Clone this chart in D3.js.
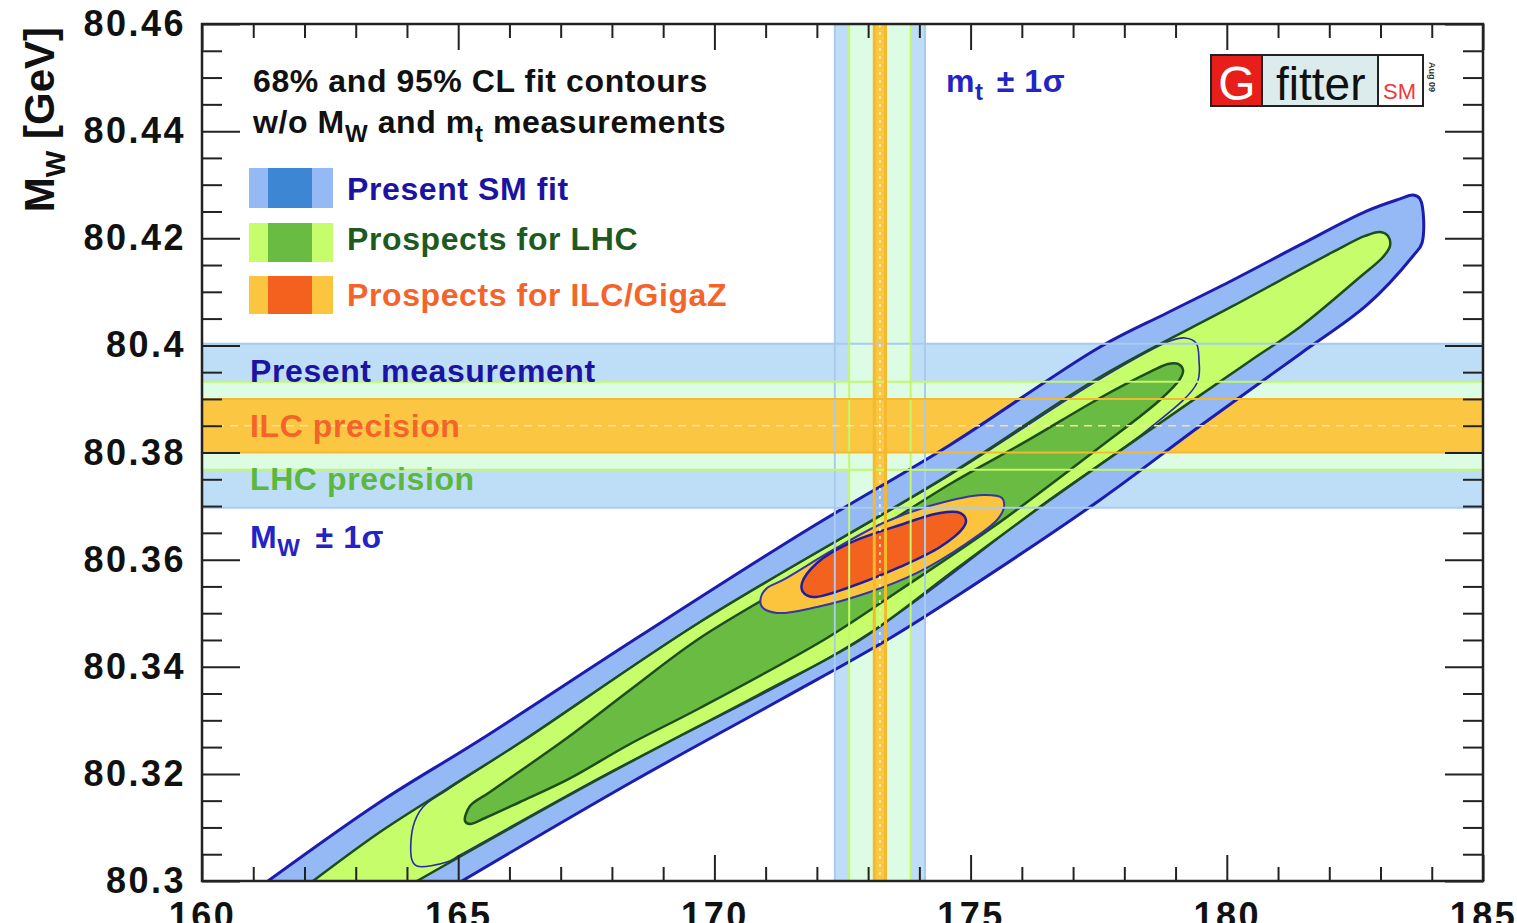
<!DOCTYPE html>
<html>
<head>
<meta charset="utf-8">
<script src="https://cdn.jsdelivr.net/npm/d3@7"></script>
<style>
  html, body { margin: 0; padding: 0; background: #fff; overflow: hidden; }
  svg { display: block; }
  text { font-family: "Liberation Sans", Arial, Helvetica, sans-serif; white-space: pre; }
</style>
</head>
<body>
<svg id="chart" width="1517" height="923"></svg>
<script>
// ---- axis ranges and ticks ----
const xDomain = [160, 185];
const yDomain = [80.3, 80.46];
const xMajorTicks = [160, 165, 170, 175, 180, 185];
const yMajorTicks = [80.3, 80.32, 80.34, 80.36, 80.38, 80.4, 80.42, 80.44, 80.46];
const xMinorStep = 1;
const yMinorStep = 0.005;

// ---- measurement bands: present, LHC, ILC ----
const bandNames = ["present", "lhc", "ilc"];
const mwCenter = 80.385;
const mwHalfWidth = [0.0153, 0.0082, 0.005];
const mtCenter = 173.23;
const mtHalfWidth = [0.88, 0.60, 0.11];

// ---- fit contours, points as [m_t, M_W] ----
// present SM fit, 95% CL (open at the lower plot edge)
const smFit95 = [
  [161.288, 80.3], [163.474, 80.31475], [165.425, 80.32633], [168.548, 80.34574],
  [171.807, 80.36553], [174.598, 80.38141], [177.525, 80.39970], [178.833, 80.40605],
  [180.121, 80.41221], [181.429, 80.41875], [182.736, 80.42510], [183.380, 80.42734],
  [183.634, 80.42808], [183.771, 80.42734], [183.810, 80.41912], [183.634, 80.41669],
  [182.736, 80.40754], [181.429, 80.39840], [179.477, 80.38495], [177.525, 80.37114],
  [174.793, 80.35359], [173.368, 80.34500], [171.280, 80.33379],
  [168.353, 80.31830], [165.074, 80.3]
];
// present SM fit, 68% CL
const smFit68 = [
  [164.781, 80.31699], [166.226, 80.32595], [169.719, 80.34836], [174.598, 80.37580],
  [177.525, 80.39373], [178.891, 80.40082], [179.184, 80.40138], [179.399, 80.40045],
  [179.457, 80.39728], [179.418, 80.39298], [178.501, 80.38458], [176.550, 80.37132],
  [172.842, 80.34518], [167.709, 80.31904], [165.035, 80.30485], [164.781, 80.30355],
  [164.196, 80.30280], [164.098, 80.30392], [164.118, 80.31008], [164.313, 80.31382]
];
// LHC prospects, 95% CL (open at the lower plot edge)
const lhc95 = [
  [162.166, 80.3], [163.474, 80.30915], [164.781, 80.31718], [166.226, 80.32595],
  [169.719, 80.34836], [174.598, 80.37599], [177.525, 80.39410], [180.121, 80.40736],
  [182.073, 80.41744], [182.697, 80.42043], [182.990, 80.42117], [183.146, 80.42043],
  [183.185, 80.41856], [183.048, 80.41651], [182.600, 80.41277], [181.429, 80.40344],
  [180.453, 80.39709], [178.501, 80.38421], [176.550, 80.37114], [174.793, 80.35881],
  [172.842, 80.34500], [170.890, 80.33491], [167.709, 80.31886], [164.196, 80.3]
];
// LHC prospects, 68% CL
const lhc68 = [
  [165.133, 80.31120], [165.230, 80.31400], [165.621, 80.31662], [167.123, 80.32670],
  [168.353, 80.33566], [169.719, 80.34537], [172.100, 80.35900], [174.598, 80.37412],
  [176.062, 80.38197], [177.525, 80.39018], [178.501, 80.39504], [178.852, 80.39653],
  [179.048, 80.39653], [179.145, 80.39541], [179.087, 80.39373], [178.696, 80.38981],
  [177.525, 80.38103], [175.437, 80.36609], [173.622, 80.35433], [172.198, 80.34537],
  [169.719, 80.33230], [168.353, 80.32558], [167.123, 80.31886], [166.206, 80.31475],
  [165.523, 80.31176], [165.230, 80.31064]
];
// ILC/GigaZ prospects, 95% CL
const ilc95 = [
  [170.909, 80.35303], [171.027, 80.35471], [171.339, 80.35620], [172.315, 80.36180],
  [173.290, 80.36684], [174.266, 80.37020], [175.242, 80.37207], [175.613, 80.37151],
  [175.652, 80.36983], [175.515, 80.36740], [174.930, 80.36311], [173.954, 80.35751],
  [172.978, 80.35377], [172.002, 80.35116], [171.222, 80.35004], [170.929, 80.35116]
];
// ILC/GigaZ prospects, 68% CL
const ilc68 = [
  [171.710, 80.35564], [172.002, 80.35937], [172.646, 80.36311], [173.622, 80.36647],
  [174.403, 80.36871], [174.793, 80.36871], [174.910, 80.36740], [174.852, 80.36591],
  [174.403, 80.36236], [173.622, 80.35863], [172.646, 80.35489], [171.924, 80.35303],
  [171.729, 80.35396]
];

// ---- legend entries ----
const legendLabels = ["Present SM fit", "Prospects for LHC", "Prospects for ILC/GigaZ"];

// ---- colours ----
const bandFill = ["#bedef8", "#dcfde3", "#fbc743"];
const bandEdge = ["#a9cbef", "#c2f86a", "#f6b92e"];
const swatchLight = ["#94b9f5", "#c6fd6a", "#fcc540"];
const swatchDark = ["#3d86d4", "#6abb42", "#f4611e"];
const legendText = ["#1c14a0", "#1e5a20", "#f4642a"];

const plot = { left: 202, right: 1483, top: 24, bottom: 881 };

const svg = d3.select("#chart");
const x = d3.scaleLinear().domain(xDomain).range([plot.left, plot.right]);
const y = d3.scaleLinear().domain(yDomain).range([plot.bottom, plot.top]);

svg.append("defs").append("clipPath").attr("id", "plotArea")
  .append("rect")
  .attr("x", plot.left).attr("y", plot.top)
  .attr("width", plot.right - plot.left).attr("height", plot.bottom - plot.top);

const area = svg.append("g").attr("clip-path", "url(#plotArea)");

// bands: wide ones first, each level drawn horizontal then vertical
bandNames.forEach((name, i) => {
  area.append("rect").attr("class", "hband " + name)
    .attr("x", plot.left).attr("width", plot.right - plot.left)
    .attr("y", y(mwCenter + mwHalfWidth[i]))
    .attr("height", y(mwCenter - mwHalfWidth[i]) - y(mwCenter + mwHalfWidth[i]))
    .attr("fill", bandFill[i]);
  area.append("rect").attr("class", "vband " + name)
    .attr("y", plot.top).attr("height", plot.bottom - plot.top)
    .attr("x", x(mtCenter - mtHalfWidth[i]))
    .attr("width", x(mtCenter + mtHalfWidth[i]) - x(mtCenter - mtHalfWidth[i]))
    .attr("fill", bandFill[i]);
});

// contours
const openLine = d3.line().x(d => x(d[0])).y(d => y(d[1])).curve(d3.curveCatmullRom.alpha(0.5));
const closedLine = d3.line().x(d => x(d[0])).y(d => y(d[1])).curve(d3.curveCatmullRomClosed.alpha(0.5));

area.append("path").attr("d", openLine(smFit95))
  .attr("fill", "#94b9f5").attr("stroke", "#1c1cb0").attr("stroke-width", 3);
area.append("path").attr("d", openLine(lhc95))
  .attr("fill", "#c6fd6a").attr("stroke", "none");
area.append("path").attr("d", closedLine(smFit68))
  .attr("fill", "none").attr("stroke", "#2a2aa8").attr("stroke-width", 1.6);
area.append("path").attr("d", openLine(lhc95))
  .attr("fill", "none").attr("stroke", "#1c4d1c").attr("stroke-width", 2.5);
area.append("path").attr("d", closedLine(lhc68))
  .attr("fill", "#6abb42").attr("stroke", "#1c4d1c").attr("stroke-width", 2.5);
area.append("path").attr("d", closedLine(ilc95))
  .attr("fill", "#fcc43c").attr("stroke", "#3535a8").attr("stroke-width", 2);
area.append("path").attr("d", closedLine(ilc68))
  .attr("fill", "#f4621f").attr("stroke", "#1f1f9a").attr("stroke-width", 2.5);

// band edges drawn over the contours
bandNames.forEach((name, i) => {
  [mwCenter + mwHalfWidth[i], mwCenter - mwHalfWidth[i]].forEach(v => {
    area.append("line")
      .attr("x1", plot.left).attr("x2", plot.right)
      .attr("y1", y(v)).attr("y2", y(v))
      .attr("stroke", bandEdge[i]).attr("stroke-width", 2);
  });
  [mtCenter - mtHalfWidth[i], mtCenter + mtHalfWidth[i]].forEach(v => {
    area.append("line")
      .attr("y1", plot.top).attr("y2", plot.bottom)
      .attr("x1", x(v)).attr("x2", x(v))
      .attr("stroke", bandEdge[i]).attr("stroke-width", i === 2 ? 3 : 2);
  });
});
// central values
area.append("line")
  .attr("x1", plot.left).attr("x2", plot.right)
  .attr("y1", y(mwCenter)).attr("y2", y(mwCenter))
  .attr("stroke", "#fde29a").attr("stroke-width", 1.5).attr("stroke-dasharray", "8,6");
area.append("line")
  .attr("y1", plot.top).attr("y2", plot.bottom)
  .attr("x1", x(mtCenter)).attr("x2", x(mtCenter))
  .attr("stroke", "#fff3cc").attr("stroke-width", 1.5).attr("stroke-dasharray", "3,5");

// ---- axes ----
const xMinor = d3.range(xDomain[0], xDomain[1] + 1e-9, xMinorStep).filter(v => !xMajorTicks.includes(v));
const yMinor = d3.range(0, 33).map(k => +(yDomain[0] + k * yMinorStep).toFixed(3))
  .filter(v => !yMajorTicks.some(t => Math.abs(t - v) < 1e-6));

function styleAxis(g) {
  g.select(".domain").remove();
  g.selectAll(".tick line").attr("stroke", "#222").attr("stroke-width", 2);
  g.selectAll(".tick text")
    .attr("fill", "#111").attr("font-size", 36).attr("font-weight", "bold")
    .attr("letter-spacing", "2.5px");
}

svg.append("g").attr("transform", `translate(0,${plot.bottom})`)
  .call(d3.axisBottom(x).tickValues(xMajorTicks).tickSize(-26).tickPadding(21).tickFormat(d => String(d)))
  .call(styleAxis);
svg.append("g").attr("transform", `translate(0,${plot.bottom})`)
  .call(d3.axisBottom(x).tickValues(xMinor).tickSize(-14).tickFormat(""))
  .call(styleAxis);
svg.append("g").attr("transform", `translate(0,${plot.top})`)
  .call(d3.axisTop(x).tickValues(xMajorTicks).tickSize(-26).tickFormat(""))
  .call(styleAxis);
svg.append("g").attr("transform", `translate(0,${plot.top})`)
  .call(d3.axisTop(x).tickValues(xMinor).tickSize(-14).tickFormat(""))
  .call(styleAxis);

svg.append("g").attr("transform", `translate(${plot.left},0)`)
  .call(d3.axisLeft(y).tickValues(yMajorTicks).tickSize(-38).tickPadding(16).tickFormat(d => String(d)))
  .call(styleAxis);
svg.append("g").attr("transform", `translate(${plot.left},0)`)
  .call(d3.axisLeft(y).tickValues(yMinor).tickSize(-20).tickFormat(""))
  .call(styleAxis);
svg.append("g").attr("transform", `translate(${plot.right},0)`)
  .call(d3.axisRight(y).tickValues(yMajorTicks).tickSize(-38).tickFormat(""))
  .call(styleAxis);
svg.append("g").attr("transform", `translate(${plot.right},0)`)
  .call(d3.axisRight(y).tickValues(yMinor).tickSize(-20).tickFormat(""))
  .call(styleAxis);

svg.append("rect")
  .attr("x", plot.left).attr("y", plot.top)
  .attr("width", plot.right - plot.left).attr("height", plot.bottom - plot.top)
  .attr("fill", "none").attr("stroke", "#222").attr("stroke-width", 2.5);

// y-axis title
const yTitle = svg.append("text")
  .attr("transform", "translate(54,27) rotate(-90)")
  .attr("text-anchor", "end").attr("font-size", 42).attr("font-weight", "bold").attr("fill", "#111");
yTitle.append("tspan").text("M");
yTitle.append("tspan").attr("font-size", 28).attr("dy", 11).text("W");
yTitle.append("tspan").attr("dy", -11).text(" [GeV]");

// ---- annotations ----
function label(xp, yp, color, size) {
  return svg.append("text").attr("x", xp).attr("y", yp)
    .attr("fill", color).attr("font-size", size).attr("font-weight", "bold")
    .attr("letter-spacing", "0.6px");
}

label(253, 92, "#111", 32).text("68% and 95% CL fit contours");
const l2 = label(253, 133, "#111", 32);
l2.append("tspan").text("w/o M");
l2.append("tspan").attr("font-size", 24).attr("dy", 9).text("W");
l2.append("tspan").attr("dy", -9).text(" and m");
l2.append("tspan").attr("font-size", 24).attr("dy", 9).text("t");
l2.append("tspan").attr("dy", -9).text(" measurements");

// legend
const swatchTop = [168, 223, 276];
const swatchH = [40, 39, 38];
legendLabels.forEach((lab, i) => {
  const gL = svg.append("g");
  gL.append("rect").attr("x", 249).attr("y", swatchTop[i]).attr("width", 84).attr("height", swatchH[i])
    .attr("fill", swatchLight[i]);
  gL.append("rect").attr("x", 268).attr("y", swatchTop[i]).attr("width", 44).attr("height", swatchH[i])
    .attr("fill", swatchDark[i]);
  label(347, [200, 250, 306][i], legendText[i], 32).text(lab);
});

// band labels
label(250, 382, "#1c14a0", 32).text("Present measurement");
label(250, 437, "#f4642a", 32).text("ILC precision");
label(250, 490, "#5cb83c", 32).text("LHC precision");
const mwLab = label(250, 548, "#2424c4", 32);
mwLab.append("tspan").text("M");
mwLab.append("tspan").attr("font-size", 24).attr("dy", 8).text("W");
mwLab.append("tspan").attr("dy", -8).attr("dx", 15).text("± 1σ");

const mtLab = label(946, 92, "#2424c4", 32);
mtLab.append("tspan").text("m");
mtLab.append("tspan").attr("font-size", 24).attr("dy", 8).text("t");
mtLab.append("tspan").attr("dy", -8).attr("dx", 13).text("± 1σ");

// Gfitter logo
const logo = svg.append("g");
logo.append("rect").attr("x", 1211).attr("y", 55).attr("width", 212).attr("height", 51)
  .attr("fill", "#fff").attr("stroke", "#222").attr("stroke-width", 2);
logo.append("rect").attr("x", 1212).attr("y", 56).attr("width", 50).attr("height", 49).attr("fill", "#e81e1a");
logo.append("rect").attr("x", 1262).attr("y", 56).attr("width", 116).attr("height", 49).attr("fill", "#dcecec");
logo.append("line").attr("x1", 1262).attr("x2", 1262).attr("y1", 55).attr("y2", 106).attr("stroke", "#222").attr("stroke-width", 2);
logo.append("line").attr("x1", 1378).attr("x2", 1378).attr("y1", 55).attr("y2", 106).attr("stroke", "#222").attr("stroke-width", 2);
logo.append("text").attr("x", 1237).attr("y", 100).attr("text-anchor", "middle")
  .attr("font-size", 48).attr("fill", "#fff").text("G");
logo.append("text").attr("x", 1276).attr("y", 100)
  .attr("font-size", 46).attr("fill", "#111").text("fitter");
logo.append("text").attr("x", 1383).attr("y", 99)
  .attr("font-size", 22).attr("fill", "#f03838").text("SM");
logo.append("text").attr("transform", "translate(1429,62) rotate(90)")
  .attr("font-size", 9).attr("font-weight", "bold").attr("fill", "#333").text("Aug 09");
</script>
</body>
</html>
